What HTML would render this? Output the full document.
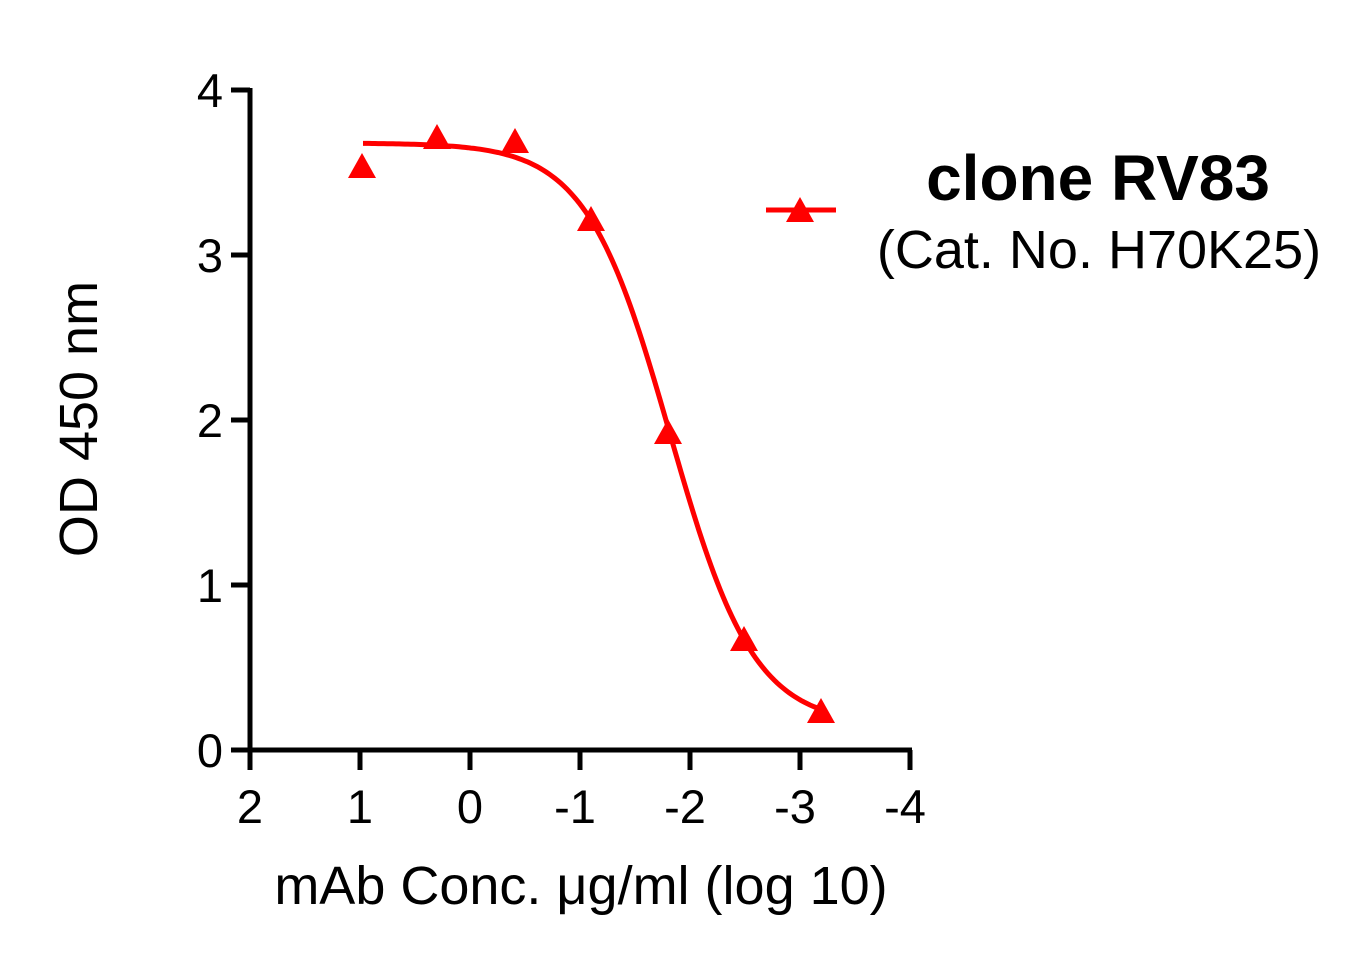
<!DOCTYPE html>
<html><head><style>body{margin:0;background:#fff}svg{display:block}</style></head>
<body>
<svg width="1370" height="962" xmlns="http://www.w3.org/2000/svg" font-family="Liberation Sans, Arial, sans-serif">
<g stroke="#000" stroke-width="5" fill="none">
<line x1="250" y1="88" x2="250" y2="752"/>
<line x1="248" y1="750" x2="912" y2="750"/>
<line x1="231" y1="90" x2="250" y2="90"/>
<line x1="231" y1="255" x2="250" y2="255"/>
<line x1="231" y1="420" x2="250" y2="420"/>
<line x1="231" y1="585" x2="250" y2="585"/>
<line x1="231" y1="750" x2="250" y2="750"/>
<line x1="250" y1="750" x2="250" y2="770"/>
<line x1="360" y1="750" x2="360" y2="770"/>
<line x1="470" y1="750" x2="470" y2="770"/>
<line x1="580" y1="750" x2="580" y2="770"/>
<line x1="690" y1="750" x2="690" y2="770"/>
<line x1="800" y1="750" x2="800" y2="770"/>
<line x1="910" y1="750" x2="910" y2="770"/>
</g>
<g font-size="47" fill="#000" text-anchor="end">
<text x="223" y="107">4</text><text x="223" y="272">3</text><text x="223" y="437">2</text><text x="223" y="602">1</text><text x="223" y="767">0</text>
</g>
<g font-size="47" fill="#000" text-anchor="middle">
<text x="250" y="823">2</text><text x="360" y="823">1</text><text x="470" y="823">0</text><text x="575" y="823">-1</text><text x="685" y="823">-2</text><text x="795" y="823">-3</text><text x="905" y="823">-4</text>
</g>
<text x="581" y="904" font-size="54" text-anchor="middle">mAb Conc. μg/ml (log 10)</text>
<text transform="translate(97,419) rotate(-90)" font-size="54" text-anchor="middle">OD 450 nm</text>
<path id="c" fill="none" stroke="#f00" stroke-width="5"/>
<g fill="#f00">
<polygon points="362,153 348,178 376,178"/>
<polygon points="437,124 423,149 451,149"/>
<polygon points="515,128 501,153 529,153"/>
<polygon points="591,206 577,231 605,231"/>
<polygon points="668,419 654,444 682,444"/>
<polygon points="744,626 730,651 758,651"/>
<polygon points="821,698 807,723 835,723"/>
<polygon points="800,197 786,222 814,222"/>
</g>
<line x1="766" y1="210" x2="836" y2="210" stroke="#f00" stroke-width="5"/>
<text x="1098" y="200" font-size="64" font-weight="bold" text-anchor="middle">clone RV83</text>
<text x="1099" y="268" font-size="54" text-anchor="middle">(Cat. No. H70K25)</text>
<script>
var d="";for(var x=363;x<=822;x+=3){var y=725-582/(1+Math.exp((x-670)/42));d+=(d?"L":"M")+x+","+y.toFixed(1);}
document.getElementById("c").setAttribute("d",d);
</script>
</svg>
</body></html>
